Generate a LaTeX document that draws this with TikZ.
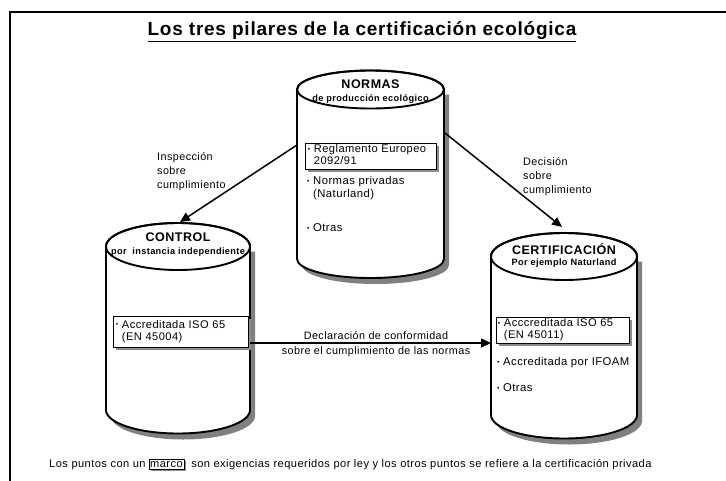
\documentclass[tikz,border=0pt]{standalone}
\usepackage{fontspec}
\setmainfont[LetterSpace=4]{Liberation Sans}
\usetikzlibrary{arrows.meta,shadows}
\newcommand\bul{\raisebox{1.3pt}{\scalebox{0.6}{\textbullet}}}
\newcommand\mycyl[5]{%
  \fill[cylshadow] (#1-#4+5,#2+5) -- (#1-#4+5,#3+6) arc[start angle=180,end angle=0,x radius=#4,y radius=#5] -- (#1+#4+5,#2+5) -- cycle;
  \filldraw[cylline,fill=white] (#1-#4,#2) -- (#1-#4,#3) arc[start angle=180,end angle=0,x radius=#4,y radius=#5] -- (#1+#4,#2) arc[start angle=0,end angle=-180,x radius=#4,y radius=#5] -- cycle;
  \draw[cylline] (#1,#2) ellipse[x radius=#4,y radius=#5];
}
\tikzset{
  cylshadow/.style={fill=black!50},
  cylline/.style={draw=black,line width=1.9pt},
  head/.style={font=\fontsize{12.5}{15}\selectfont\bfseries,inner sep=0pt},
  sub/.style={font=\fontsize{9.2}{11}\selectfont\bfseries,inner sep=0pt},
  lbl/.style={font=\fontsize{10.8}{14}\selectfont,align=left,inner sep=0pt},
  item/.style={font=\fontsize{11.3}{13}\selectfont,inner sep=0pt,anchor=west},
  tbox/.style={draw=black,fill=white,line width=0.8pt,anchor=north west,inner xsep=2.5pt,inner ysep=0.8pt,
    align=left,font=\fontsize{11.1}{12.3}\selectfont,
    drop shadow={shadow xshift=3pt,shadow yshift=-3pt,fill=black!45,opacity=1}},
  conn/.style={line width=1.5pt,-{Triangle[length=10pt,width=9pt]}},
  foot/.style={font=\fontsize{11.1}{12}\selectfont,inner sep=0pt,anchor=base west}
}
\begin{document}
\begin{tikzpicture}[x=1pt,y=-1pt]
\useasboundingbox (0,0) rectangle (726,480);
\clip (0,0) rectangle (726,480);
\draw[line width=2.2pt] (10,490) -- (10,12) -- (740,12);

\node[font=\fontsize{19}{22}\selectfont\bfseries,inner sep=0pt] (title) at (362,32) {\underline{Los tres pilares de la certificación ecológica}};

% cylinders
\mycyl{370.5}{89.5}{259}{73.5}{19}
\mycyl{178}{246.5}{410}{72}{23.5}
\mycyl{564}{256.5}{415}{73}{23.5}

% NORMAS
\node[head] (nh) at (370.5,84) {NORMAS};
\node[sub] (ns) at (370.5,99) {de producción ecológico};
\node[tbox,text width=126pt,minimum height=24pt] (nbox) at (305,142.5)
  {\begin{tabular}{@{}l@{\ }l@{}}\bul & Reglamento Europeo\\ & 2092/91\end{tabular}};
\node[item] (n2) at (307,188.5) {\begin{tabular}{@{}l@{\ }l@{}}\bul & Normas privadas\\ & (Naturland)\end{tabular}};
\node[item] (n3) at (307,228) {\bul\ Otras};

% CONTROL
\node[head] (ch) at (178,237) {CONTROL};
\node[sub] (cs) at (178,252) {por\ \ instancia independiente};
\node[tbox,text width=130pt,minimum height=31pt] (cbox) at (113,316)
  {\begin{tabular}{@{}l@{\ }l@{}}\bul & Accreditada ISO 65\\ & (EN 45004)\end{tabular}};

% CERTIFICACION
\node[head] (kh) at (564,249) {CERTIFICACIÓN};
\node[sub] (ks) at (564,263) {Por ejemplo Naturland};
\node[tbox,text width=130pt,minimum height=23pt,inner xsep=1.5pt] (kbox) at (496,316.5)
  {\begin{tabular}{@{}l@{\ }l@{}}\bul & Acccreditada ISO 65\\ & (EN 45011)\end{tabular}};
\node[item] (k2) at (497,363) {\bul\ Accreditada por IFOAM};
\node[item] (k3) at (497,388) {\bul\ Otras};

% connector ends
\coordinate (nL) at (297,145);
\coordinate (cT) at (180,222);
\coordinate (nR) at (445,133);
\coordinate (kT) at (562,227);
\coordinate (cR) at (250,343);
\coordinate (kL) at (491,343);

\draw[conn] (nL) -- (cT);
\draw[conn] (nR) -- (kT);
\draw[conn] (cR) -- (kL);

\node[lbl,anchor=west] (l1) at (157,172) {Inspección\\sobre\\cumplimiento};
\node[lbl,anchor=west] (l2) at (523,177) {Decisión\\sobre\\cumplimiento};
\node[lbl] (l3) at (376,336) {Declaración de conformidad};
\node[lbl] (l4) at (376,352) {sobre el cumplimiento de las normas};

% footer
\node[foot] (f1) at (49,467) {Los puntos con un};
\node[foot,draw=black,fill=white,line width=0.6pt,inner xsep=1pt,inner ysep=2pt,
  drop shadow={shadow xshift=2pt,shadow yshift=-2pt,fill=black!45,opacity=1}] (marco) at ([xshift=3pt]f1.base east) {marco};
\node[foot] (f2) at ([xshift=7pt]marco.base east) {son exigencias requeridos por ley y los otros puntos se refiere a la certificación privada};
\end{tikzpicture}
\end{document}
